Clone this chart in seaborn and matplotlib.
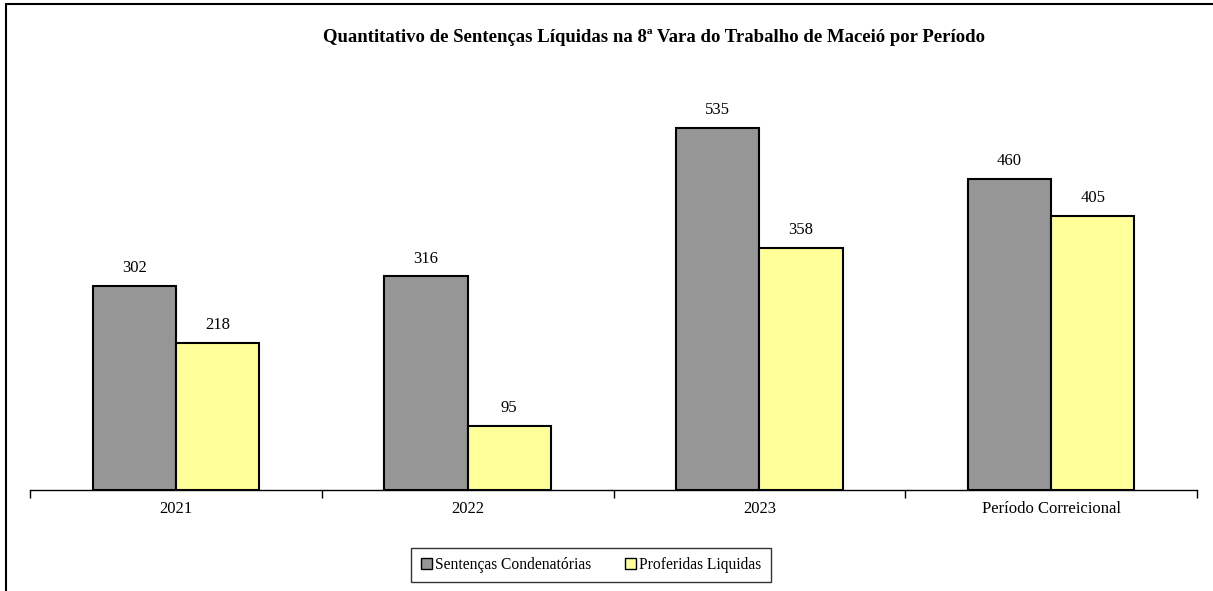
import pandas as pd
import matplotlib.pyplot as plt
import seaborn as sns
from matplotlib.lines import Line2D

# Dados do gráfico
periodos = ['2021', '2022', '2023', 'Período Correicional']
condenatorias = [302, 316, 535, 460]
liquidas = [218, 95, 358, 405]
series = ['Sentenças Condenatórias', 'Proferidas Liquidas']

df = pd.DataFrame({
    'Período': periodos * 2,
    'Série': [series[0]] * 4 + [series[1]] * 4,
    'Valor': condenatorias + liquidas,
})

sns.set_theme(style='white')
plt.rcParams['font.family'] = ['Liberation Serif', 'DejaVu Serif']
plt.rcParams['text.color'] = 'black'
plt.rcParams['xtick.color'] = 'black'

fig = plt.figure(figsize=(12.13, 5.91), dpi=100)
ax = fig.add_axes([30 / 1213, 101 / 591, 1167 / 1213, 420 / 591])

sns.barplot(data=df, x='Período', y='Valor', hue='Série',
            palette=['#969696', '#FFFF99'], width=0.57, saturation=1,
            edgecolor='black', linewidth=1.5, ax=ax, legend=True)

for cont in ax.containers:
    ax.bar_label(cont, padding=7, fontsize=12, color='black')

ax.set_ylim(0, 621)
ax.set_xlim(-0.5, 3.5)
ax.set_xlabel('')
ax.set_ylabel('')
ax.set_yticks([])
for s in ['top', 'right', 'left']:
    ax.spines[s].set_visible(False)
ax.spines['bottom'].set_color('black')
ax.spines['bottom'].set_linewidth(1)

# ticks nas divisões entre categorias
ax.set_xticks([-0.5, 0.5, 1.5, 2.5, 3.5], minor=False)
ax.set_xticklabels([])
ax.set_xticks([0, 1, 2, 3], minor=True)
ax.set_xticklabels(periodos, minor=True, fontsize=12, color='black')
ax.tick_params(axis='x', which='major', length=6, direction='out',
               bottom=True, color='black', width=1)
ax.tick_params(axis='x', which='minor', length=0, pad=8)

fig.suptitle('Quantitativo de Sentenças Líquidas na 8ª Vara do Trabalho de Maceió por Período',
             x=654 / 1213, y=1 - 38 / 591, va='center', fontsize=13.5,
             fontweight='bold', color='black')

leg = ax.legend(loc='center', bbox_to_anchor=(591 / 1213, 1 - 565 / 591),
                bbox_transform=fig.transFigure, ncol=2, fontsize=11.2,
                frameon=True, fancybox=False, edgecolor='black',
                handlelength=0.7, handleheight=0.7, handletextpad=0.2,
                columnspacing=2.2, borderpad=0.6)
leg.get_frame().set_linewidth(1)
for h in leg.legend_handles:
    h.set_linewidth(1)
for t in leg.get_texts():
    t.set_color('black')

# moldura (topo e esquerda)
fig.add_artist(Line2D([6 / 1213, 1], [1 - 4 / 591, 1 - 4 / 591], color='black', lw=1.5))
fig.add_artist(Line2D([6 / 1213, 6 / 1213], [0, 1 - 4 / 591], color='black', lw=1.5))

plt.savefig('out.png', dpi=100)
plt.close()
